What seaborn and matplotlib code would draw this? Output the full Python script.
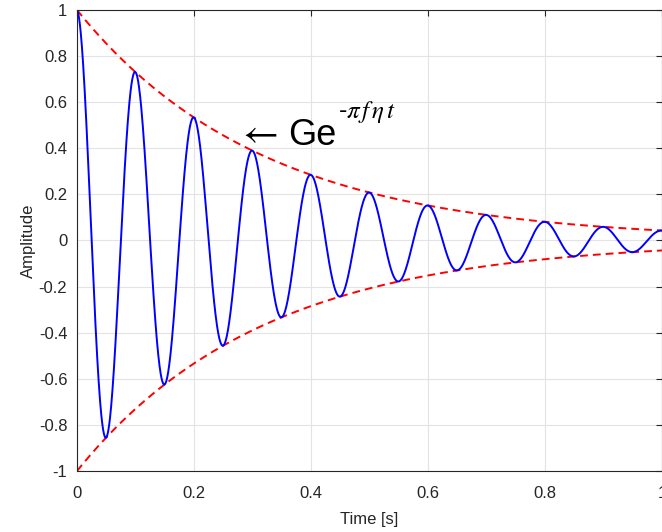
import numpy as np
import pandas as pd
import matplotlib
matplotlib.use("Agg")
import matplotlib.pyplot as plt
import seaborn as sns
from matplotlib.ticker import FormatStrFormatter

# Parameters
G = 1.0          # initial amplitude
f = 10.0         # frequency [Hz] (peaks every 0.1 s)
eta = 0.1        # loss factor (envelope 0.73 at t=0.1)
t_start, t_end, n_samples = 0.0, 1.0, 2001

x_ticks = [0, 0.2, 0.4, 0.6, 0.8, 1]
y_ticks = [-1, -0.8, -0.6, -0.4, -0.2, 0, 0.2, 0.4, 0.6, 0.8, 1]

t = np.linspace(t_start, t_end, n_samples)
env = G * np.exp(-np.pi * f * eta * t)
sig = env * np.cos(2 * np.pi * f * t)
df = pd.DataFrame({"t": t, "sig": sig, "env_up": env, "env_lo": -env})

sns.set_style("white")
plt.rcParams["font.family"] = ["Liberation Sans", "DejaVu Sans"]
plt.rcParams["axes.unicode_minus"] = False

fig = plt.figure(figsize=(6.62, 5.32), dpi=100)
ax = fig.add_axes([0.1163, 0.1147, 0.8837, 0.8665])

dash = (0, (4, 2.6))
sns.lineplot(data=df, x="t", y="env_up", ax=ax, color="#ff0000", linestyle=dash, linewidth=1.4)
sns.lineplot(data=df, x="t", y="env_lo", ax=ax, color="#ff0000", linestyle=dash, linewidth=1.4)
sns.lineplot(data=df, x="t", y="sig", ax=ax, color="#0000ff", linewidth=1.4)

ax.set_xlim(0, 1)
ax.set_ylim(-1, 1)
ax.set_xticks(x_ticks)
ax.set_yticks(y_ticks)
ax.xaxis.set_major_formatter(FormatStrFormatter("%g"))
ax.yaxis.set_major_formatter(FormatStrFormatter("%g"))
ax.grid(True, color="#e3e3e3", linewidth=0.8)
ax.set_axisbelow(True)
ax.tick_params(direction="in", length=4, width=0.8, colors="#262626", labelsize=12,
               top=True, right=True, labelcolor="#262626")
ax.tick_params(axis="x", pad=10.5)
ax.tick_params(axis="y", pad=7)
for s in ax.spines.values():
    s.set_color("#262626")
    s.set_linewidth(0.8)
    s.set_visible(True)

ax.set_xlabel("Time [s]", fontsize=12, color="#262626", labelpad=8)
ax.set_ylabel("Amplitude", fontsize=12, color="#262626", labelpad=2)

# annotation pieces
ax.text(0.3085, 0.4665, r"$\leftarrow$", fontsize=28, math_fontfamily="stix", color="black",
        ha="center", va="center")
ax.text(0.3607, 0.4143, "Ge", fontsize=26, color="black", ha="left", va="baseline")
ax.text(0.4470, 0.531, r"-$\pi\,f\,\eta\,t$", fontsize=18, math_fontfamily="stix", color="black",
        ha="left", va="baseline")

fig.savefig("out.png", dpi=100)
